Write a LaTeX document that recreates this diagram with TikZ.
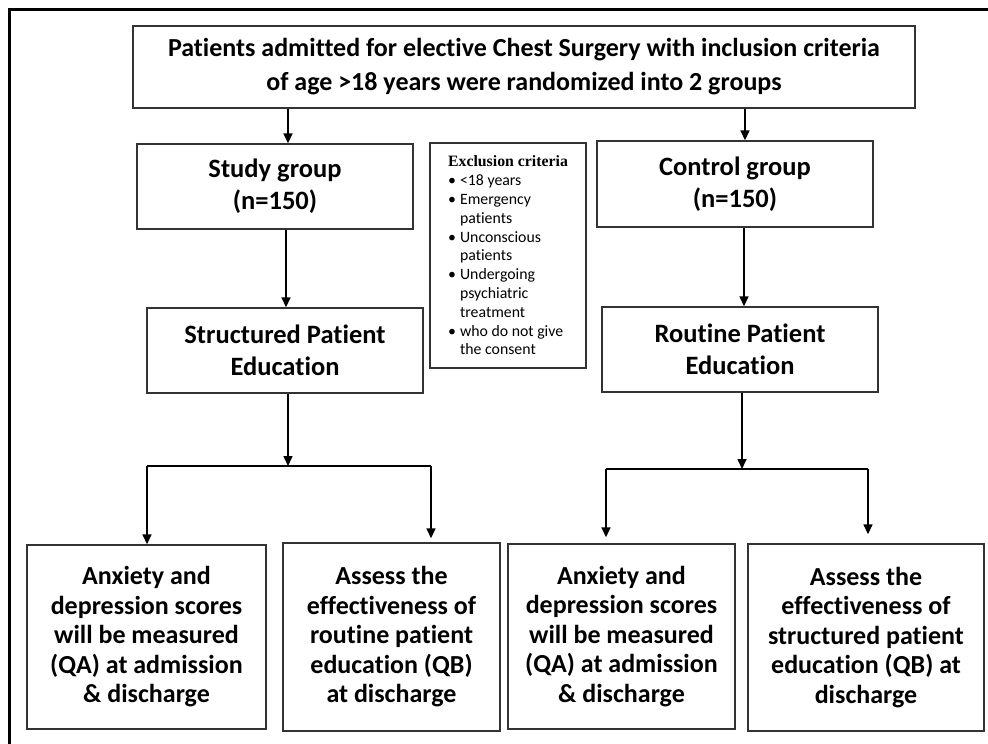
\documentclass[tikz,border=0pt]{standalone}
\usepackage{fontspec}
\setmainfont{Carlito}[Ligatures=NoCommon]
\newfontfamily\exhead{Liberation Serif}
\usetikzlibrary{arrows.meta}
\newcommand{\bul}{\makebox[12pt][l]{\textbullet}}
\newcommand{\ind}{\hspace*{12pt}}

\begin{document}
\begin{tikzpicture}[x=1pt,y=-1pt]
\tikzset{box/.style = {draw=black!80,line width=1.4pt,align=center,inner sep=2pt,
  font=\bfseries\fontsize{26.5}{32}\selectfont}}
\tikzset{edge/.style = {->,> = {Triangle[length=10pt,width=9pt]},line width=1.6pt}}
\tikzset{line/.style = {-,line width=1.6pt}}
\tikzset{outcome/.style = {box,font=\bfseries\fontsize{26}{29.5}\selectfont}}
\useasboundingbox (0,0) rectangle (988,744);
% frame
\draw[line width=3pt] (9,744) -- (9,9) -- (988,9);
% boxes
\node[box,minimum width=782pt,minimum height=82pt,font=\bfseries\fontsize{26}{34}\selectfont] (top) at (524,67)
  {Patients admitted for elective Chest Surgery with inclusion criteria\\of age >18 years were randomized into 2 groups};
\node[box,minimum width=276pt,minimum height=85pt] (study) at (275,186.5) {Study group\\(n=150)};
\node[box,minimum width=276pt,minimum height=86pt] (control) at (735,184) {Control group\\(n=150)};
\node[box,minimum width=276pt,minimum height=85pt] (struct) at (285,350.5) {Structured Patient\\Education};
\node[box,minimum width=276pt,minimum height=85pt] (routine) at (740,349.5) {Routine Patient\\Education};
\node[draw=black!80,line width=1.2pt,minimum width=156pt,minimum height=225pt,align=left,
  inner sep=0pt,font=\fontsize{15.8}{18.8}\selectfont] (excl) at (508,255.5)
  {{\exhead\bfseries Exclusion criteria}\\
   \bul<18 years\\
   \bul Emergency\\ \ind patients\\
   \bul Unconscious\\ \ind patients\\
   \bul Undergoing\\ \ind psychiatric\\ \ind treatment\\
   \bul who do not give\\ \ind the consent};
\node[outcome,minimum width=239pt,minimum height=184pt] (qa1) at (146.5,637)
  {Anxiety and\\depression scores\\will be measured\\(QA) at admission\\\& discharge};
\node[outcome,minimum width=217pt,minimum height=188pt] (qb1) at (391.5,637)
  {Assess the\\effectiveness of\\routine patient\\education (QB)\\at discharge};
\node[outcome,minimum width=227pt,minimum height=185pt] (qa2) at (621.5,636.5)
  {Anxiety and\\depression scores\\will be measured\\(QA) at admission\\\& discharge};
\node[outcome,minimum width=236pt,minimum height=187pt] (qb2) at (866,637.5)
  {Assess the\\effectiveness of\\structured patient\\education (QB) at\\discharge};
% branch points
\coordinate (lj) at (288,466);
\coordinate (l1) at (147,466);
\coordinate (l2) at (431,466);
\coordinate (rj) at (742,469);
\coordinate (r1) at (606,469);
\coordinate (r2) at (868,469);
% arrows
\draw[edge] ([xshift=-236pt]top.south) -- ([xshift=13pt]study.north);
\draw[edge] ([xshift=221pt]top.south) -- ([xshift=10pt]control.north);
\draw[edge] ([xshift=11pt]study.south) -- ([xshift=1pt]struct.north);
\draw[edge] ([xshift=9pt]control.south) -- ([xshift=4pt]routine.north);
\draw[edge] ([xshift=3pt]struct.south) -- (lj);
\draw[edge] ([xshift=2pt]routine.south) -- (rj);
\draw[line] (l1) -- (l2);
\draw[line] (r1) -- (r2);
\draw[edge] (l1) -- (qa1.north -| l1);
\draw[edge] (l2) -- ([yshift=4pt]qb1.north -| l2);
\draw[edge] (r1) -- ([yshift=6pt]qa2.north -| r1);
\draw[edge] (r2) -- ([yshift=9pt]qb2.north -| r2);
\end{tikzpicture}
\end{document}
